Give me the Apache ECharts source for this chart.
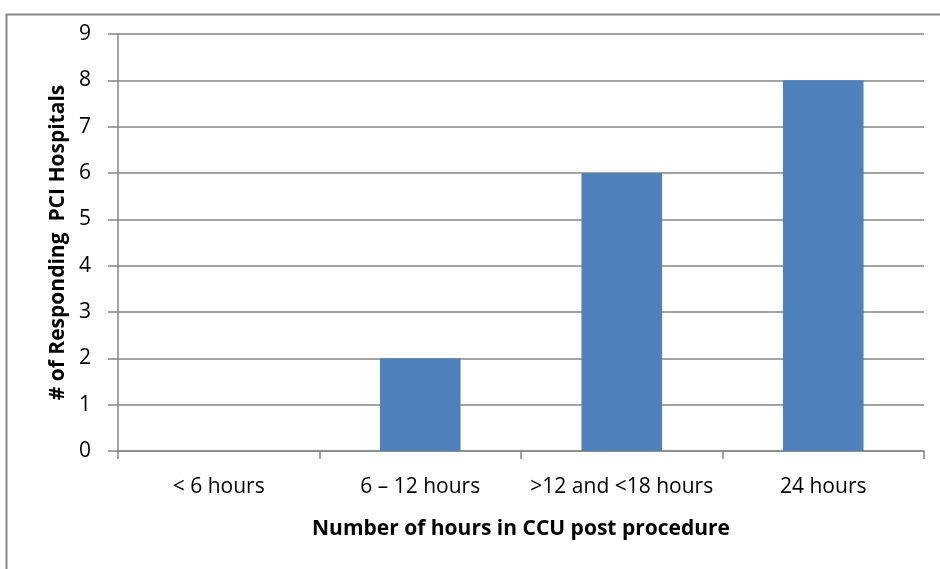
<!DOCTYPE html>
<html><head><meta charset="utf-8">
<script src="https://cdn.jsdelivr.net/npm/echarts@6/dist/echarts.min.js"></script>
<style>html,body{margin:0;padding:0;background:#fff;}#c{width:940px;height:569px;}</style>
</head><body><div id="c"></div>
<script>
const categories = ['< 6 hours', '6 \u2013 12 hours', '>12 and <18 hours', '24 hours'];
const values = [0, 2, 6, 8];
const yTicks = [0, 1, 2, 3, 4, 5, 6, 7, 8, 9];
const xTitle = 'Number of hours in CCU post procedure';
const yTitle = '# of Responding  PCI Hospitals';

const font = '"Open Sans", sans-serif';
const chart = echarts.init(document.getElementById('c'), null, {renderer: 'canvas'});
chart.setOption({
  animation: false,
  graphic: [{type: 'rect', shape: {x: 6.5, y: 14.5, width: 960, height: 600}, style: {fill: 'none', stroke: '#888', lineWidth: 2}, silent: true, z: -1}],
  grid: {left: 118, right: 16, top: 34, bottom: 118, containLabel: false},
  xAxis: {
    type: 'category', data: categories,
    name: xTitle, nameLocation: 'middle', nameGap: 68,
    nameTextStyle: {fontFamily: font, fontWeight: 'bold', fontSize: 21, color: '#000'},
    axisLine: {lineStyle: {color: '#868686', width: 1.5}},
    axisTick: {show: true, length: 8, interval: 0, alignWithLabel: false, lineStyle: {color: '#868686', width: 1.5}},
    axisLabel: {fontFamily: font, fontSize: 21, color: '#000', margin: 26, interval: 0}
  },
  yAxis: {
    type: 'value', min: 0, max: 9, interval: 1,
    name: yTitle, nameLocation: 'middle', nameGap: 46,
    nameTextStyle: {fontFamily: font, fontWeight: 'bold', fontSize: 21, color: '#000'},
    axisLine: {show: true, lineStyle: {color: '#868686', width: 1.5}},
    axisTick: {show: true, length: 10, lineStyle: {color: '#868686', width: 1.5}},
    axisLabel: {fontFamily: font, fontSize: 21, color: '#000', margin: 27,
      formatter: v => yTicks.includes(v) ? String(v) : ''},
    splitLine: {show: true, lineStyle: {color: '#868686', width: 1.5}}
  },
  series: [{
    type: 'bar', data: values, barWidth: '40%',
    itemStyle: {color: '#4f81bd'}
  }]
});
</script></body></html>
